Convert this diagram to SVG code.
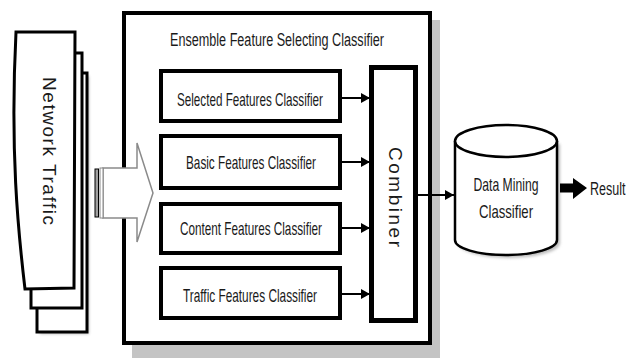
<svg xmlns="http://www.w3.org/2000/svg" width="630" height="361" viewBox="0 0 630 361">
<style>
text{font-family:"Liberation Sans",Arial,sans-serif;fill:#1a1a1a;}
.box{fill:#fff;stroke:#000;stroke-width:4;}
.page{fill:#fff;stroke:#000;stroke-width:3;}
.lbl{font-size:19px;text-anchor:middle;}
.conn{stroke:#000;stroke-width:2;fill:none;}
</style>
<defs>
<marker id="ah" markerWidth="10" markerHeight="10" refX="9" refY="5" orient="auto" markerUnits="userSpaceOnUse">
<path d="M0,0 L9,5 L0,10 Z" fill="#000"/>
</marker>
<filter id="blur" x="-10%" y="-10%" width="120%" height="120%"><feGaussianBlur stdDeviation="1.5"/></filter>
</defs>

<g id="network-traffic">
<path d="M40,76 L89,76 L89,334 L40,334 Z" fill="#bbb" filter="url(#blur)"/>
<path class="page" d="M37,73 L87,73 L87,332 L37,332 Z"/>
<path class="page" d="M31,53 L82,53 L82,308 L31,308 Z"/>
<path class="page" d="M16,32 L75,32 L74,288 L25,289 C18,230 10,150 16,32 Z"/>
<text font-size="19" text-anchor="middle" dominant-baseline="central" transform="translate(49,151) rotate(90)" textLength="148" lengthAdjust="spacing" fill="#333">Network Traffic</text>
</g>

<g id="ensemble">
<rect x="132" y="20" width="308" height="338" fill="#c4c4c4"/>
<rect x="124" y="13" width="306" height="330" class="box"/>
<text x="277" y="46" font-size="18" text-anchor="middle" textLength="214" lengthAdjust="spacingAndGlyphs">Ensemble Feature Selecting Classifier</text>
</g>

<g id="input-arrow">
<path d="M103,168 L137,168 L137,143 L153,193 L137,242 L137,218 L103,218 Z" fill="#fff" stroke="#8a8a8a" stroke-width="1.5"/>
<rect x="100" y="168" width="3" height="50" fill="#fff" stroke="#8a8a8a" stroke-width="1"/>
<rect x="95" y="169" width="3.5" height="48" fill="#a0a0a0" stroke="#000" stroke-width="1"/>
</g>

<g id="selected">
<rect x="161" y="71" width="179" height="50" class="box"/>
<text x="250" y="106" class="lbl" textLength="146" lengthAdjust="spacingAndGlyphs">Selected Features Classifier</text>
</g>
<g id="basic">
<rect x="161" y="136" width="179" height="52" class="box"/>
<text x="251" y="169" class="lbl" textLength="130" lengthAdjust="spacingAndGlyphs">Basic Features Classifier</text>
</g>
<g id="content">
<rect x="161" y="204" width="179" height="49" class="box"/>
<text x="251" y="235" class="lbl" textLength="142" lengthAdjust="spacingAndGlyphs">Content Features Classifier</text>
</g>
<g id="traffic">
<rect x="161" y="268" width="179" height="50" class="box"/>
<text x="250" y="302" class="lbl" textLength="134" lengthAdjust="spacingAndGlyphs">Traffic Features Classifier</text>
</g>

<g id="combiner">
<rect x="371.5" y="67.5" width="44" height="253" fill="#fff" stroke="#000" stroke-width="5"/>
<text font-size="19" text-anchor="middle" dominant-baseline="central" transform="translate(395,197) rotate(90)" textLength="100" lengthAdjust="spacing">Combiner</text>
</g>

<g id="data-mining">
<path d="M458,144 L458,243 A51,15 0 0 0 560,243 L560,144 Z" fill="#bbb" filter="url(#blur)"/>
<path d="M455,141 L455,240 A51,15 0 0 0 557,240 L557,141" fill="#fff" stroke="#000" stroke-width="2.5"/>
<ellipse cx="506" cy="141" rx="51" ry="16" fill="#fff" stroke="#000" stroke-width="2.5"/>
<text x="506" y="191" class="lbl" textLength="65" lengthAdjust="spacingAndGlyphs">Data Mining</text>
<text x="506" y="218" class="lbl" textLength="54" lengthAdjust="spacingAndGlyphs">Classifier</text>
</g>

<g id="result">
<text transform="translate(590,195) scale(0.66,1)" font-size="19">Result</text>
</g>

<g id="connectors">
<line x1="342" y1="98" x2="370" y2="98" class="conn" marker-end="url(#ah)"/>
<line x1="342" y1="162" x2="370" y2="162" class="conn" marker-end="url(#ah)"/>
<line x1="342" y1="228" x2="370" y2="228" class="conn" marker-end="url(#ah)"/>
<line x1="342" y1="294" x2="370" y2="294" class="conn" marker-end="url(#ah)"/>
<line x1="418" y1="195" x2="454" y2="195" class="conn" marker-end="url(#ah)"/>
<path d="M560,183.5 L573,183.5 L573,178 L587,188 L573,199 L573,192.5 L560,192.5 Z" fill="#000"/>
</g>
</svg>
